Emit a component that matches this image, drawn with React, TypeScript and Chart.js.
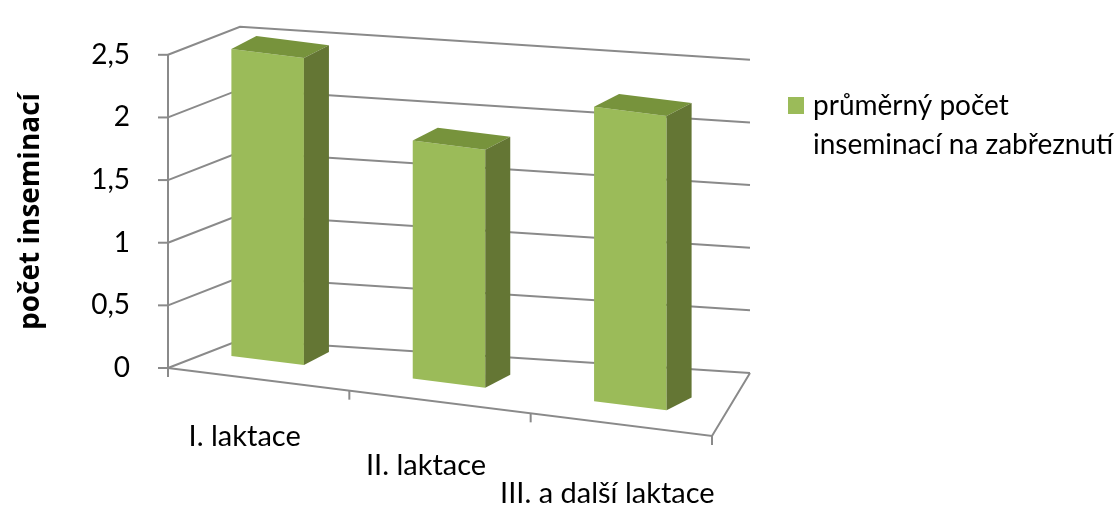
import React, { useEffect, useRef } from "react";
import { Chart, registerables } from "chart.js";

Chart.register(...registerables);

const categories: string[][] = [["I. laktace"], ["", "II. laktace"], ["", "", "III. a další laktace"]];
const seriesName = "průměrný počet inseminací na zabřeznutí";
const legendLines: string[] = ["průměrný počet", "inseminací na zabřeznutí"];
const values: number[] = [2.45, 1.9, 2.35];
const yTickLabels: string[] = ["0", "0,5", "1", "1,5", "2", "2,5"];
const yTitle = "počet inseminací";

const FRONT = "#9BBB59";
const TOP = "#77933C";
const SIDE = "#647634";
const GRID = "#8A8A8A";
const FONT = "Lato";

const KF = 0.125; // slope of the floor's front edge (perspective imitation)
const BACK_L = [72, -28]; // back-left corner offset from front-left
const BACK_R = [38, 5]; // back-right corner offset from the chart-area right at the zero line
const BX = 9, BY = -20; // offset of bar front plane
const DX = 25, DY = -16; // bar depth (before shear)
const TICK = 9;

const pseudo3d = {
  id: "pseudo3d",
  beforeDatasetsDraw(chart: any) {
    const { ctx, chartArea, scales } = chart;
    const { left, right, top } = chartArea;
    const y = scales.y;
    const y0 = y.getPixelForValue(0);
    ctx.save();
    ctx.strokeStyle = GRID;
    ctx.lineWidth = 2;
    ctx.lineJoin = "miter";
    y.ticks.forEach((t: any) => {
      const py = y.getPixelForValue(t.value);
      ctx.beginPath();
      ctx.moveTo(left, py);
      ctx.lineTo(left + BACK_L[0], py + BACK_L[1]);
      ctx.lineTo(right + BACK_R[0], py + BACK_R[1]);
      ctx.stroke();
      ctx.beginPath();
      ctx.moveTo(left - TICK - 1, py);
      ctx.lineTo(left, py);
      ctx.stroke();
    });
    const frontY = (px: number) => y0 + KF * (px - left);
    // floor front and right edges
    ctx.beginPath();
    ctx.moveTo(left, y0);
    ctx.lineTo(right, frontY(right));
    ctx.lineTo(right + BACK_R[0], y0 + BACK_R[1]);
    ctx.stroke();
    // value axis line
    ctx.beginPath();
    ctx.moveTo(left, top);
    ctx.lineTo(left, y0 + TICK);
    ctx.stroke();
    // category tick marks
    const n = categories.length;
    for (let i = 1; i <= n; i++) {
      const bx = left + (i * (right - left)) / n;
      ctx.beginPath();
      ctx.moveTo(bx, frontY(bx));
      ctx.lineTo(bx, frontY(bx) + TICK);
      ctx.stroke();
    }
    // bars: sheared plane, set back from the front edge
    ctx.transform(1, KF, 0, 1, 0, -KF * left);
    ctx.translate(BX, BY);
  },
  afterDatasetsDraw(chart: any) {
    const { ctx } = chart;
    const meta = chart.getDatasetMeta(0);
    meta.data.forEach((bar: any) => {
      const { x, y, base, width } = bar.getProps(["x", "y", "base", "width"], true);
      const l = x - width / 2;
      const r = x + width / 2;
      ctx.fillStyle = TOP;
      ctx.beginPath();
      ctx.moveTo(l, y);
      ctx.lineTo(r, y);
      ctx.lineTo(r + DX, y + DY);
      ctx.lineTo(l + DX, y + DY);
      ctx.closePath();
      ctx.fill();
      ctx.fillStyle = SIDE;
      ctx.beginPath();
      ctx.moveTo(r, y);
      ctx.lineTo(r + DX, y + DY);
      ctx.lineTo(r + DX, base + DY);
      ctx.lineTo(r, base);
      ctx.closePath();
      ctx.fill();
    });
    ctx.restore();
  },
  afterDraw(chart: any) {
    const { ctx } = chart;
    ctx.save();
    ctx.fillStyle = FRONT;
    ctx.fillRect(788, 97, 16, 17);
    ctx.fillStyle = "#000";
    ctx.font = `28px ${FONT}`;
    ctx.textBaseline = "alphabetic";
    ctx.textAlign = "left";
    legendLines.forEach((line, i) => ctx.fillText(line, 813, 115 + i * 39));
    ctx.restore();
  },
};

export default function App() {
  const ref = useRef<HTMLCanvasElement | null>(null);
  useEffect(() => {
    document.body.style.margin = "0";
    const canvas = ref.current;
    if (!canvas) return;
    const chart = new Chart(canvas, {
      type: "bar",
      data: {
        labels: categories,
        datasets: [
          {
            label: seriesName,
            data: values,
            backgroundColor: FRONT,
            borderWidth: 0,
            barPercentage: 0.4,
            categoryPercentage: 1,
            clip: false as any,
          },
        ],
      },
      options: {
        animation: false,
        responsive: true,
        maintainAspectRatio: false,
        layout: { padding: { left: 0, top: 46, right: 403, bottom: 0 } },
        plugins: { legend: { display: false }, tooltip: { enabled: false } },
        scales: {
          x: {
            grid: { display: false, drawTicks: false },
            border: { display: false },
            ticks: {
              color: "#000",
              font: { family: FONT, size: 29, lineHeight: 0.97 },
              padding: 55,
              labelOffset: -14,
              maxRotation: 0,
              autoSkip: false,
            },
            afterFit: (s: any) => {
              s.height = 138;
            },
          },
          y: {
            min: 0,
            max: 2.5,
            grid: { display: false, drawTicks: false },
            border: { display: false },
            ticks: {
              stepSize: 0.5,
              color: "#000",
              font: { family: FONT, size: 28 },
              padding: 38,
              callback: (_v: any, i: number) => yTickLabels[i],
            },
            title: {
              display: true,
              text: yTitle,
              color: "#000",
              font: { family: "Open Sans", size: 28, weight: "bold" },
              padding: { top: 14, bottom: 0 },
            },
            afterFit: (s: any) => {
              s.width = 168;
            },
          },
        },
      },
      plugins: [pseudo3d],
    });
    return () => chart.destroy();
  }, []);
  return (
    <div style={{ position: "relative", width: 1115, height: 506 }}>
      <canvas ref={ref} />
    </div>
  );
}
